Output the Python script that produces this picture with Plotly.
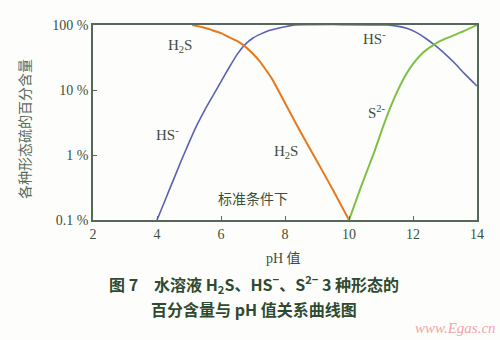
import math
import plotly.graph_objects as go

# pH vs. percentage of each sulfur species
ph_h2s = [5.1, 5.4, 5.7, 6.0, 6.25, 6.5, 6.7, 6.95, 7.2, 7.4, 7.6, 8.0, 8.5, 9.0, 9.5, 10.0]
pct_h2s = [100, 93, 84, 75, 65, 57, 49, 38, 28, 20.5, 14.7, 6.3, 2.2, 0.8, 0.29, 0.1]

ph_hs = [4.0, 4.25, 4.5, 4.75, 5.0, 5.25, 5.5, 5.75, 6.0, 6.25, 6.5, 6.75, 7.0, 7.25, 7.5,
         7.75, 8.0, 8.3, 11.2, 11.5, 11.8, 12.1, 12.4, 12.7, 13.0, 13.3, 13.6, 14.0]
pct_hs = [0.1, 0.2, 0.4, 0.8, 1.55, 2.9, 5.0, 8.2, 13.5, 22, 35, 50, 63, 73, 82,
          88.5, 94, 100, 100, 96, 89, 77, 62, 48, 36, 26, 18, 11.5]

ph_s = [10.0, 10.4, 10.8, 11.05, 11.3, 11.55, 11.8, 12.05, 12.3, 12.55, 12.8, 13.2, 13.6, 14.0]
pct_s = [0.1, 0.35, 1.15, 2.6, 5.5, 10.5, 18, 27, 37, 46, 55, 67, 81, 100]

x_ticks = [2, 4, 6, 8, 10, 12, 14]
y_ticks = [0.1, 1, 10, 100]
y_tick_text = ["0.1 %", "1 %", "10 %", "100 %"]

AXIS = "#55685a"
TEXT = "#3c4f3e"
SERIF = "Liberation Serif, Times New Roman, serif"
CJK = "Noto Sans CJK SC, sans-serif"

fig = go.Figure()
fig.add_trace(go.Scatter(x=ph_hs, y=pct_hs, mode="lines",
                         line=dict(color="#5a61b3", width=1.6, shape="spline", smoothing=0.5)))
fig.add_trace(go.Scatter(x=ph_h2s, y=pct_h2s, mode="lines",
                         line=dict(color="#e8781c", width=2, shape="spline", smoothing=0.5)))
fig.add_trace(go.Scatter(x=ph_s, y=pct_s, mode="lines",
                         line=dict(color="#7cc043", width=2, shape="spline", smoothing=0.5)))

labels = [
    (4.72, 48, "H<sub>2</sub>S"),
    (4.34, 2.1, "HS<sup>-</sup>"),
    (8.03, 1.1, "H<sub>2</sub>S"),
    (10.81, 64, "HS<sup>-</sup>"),
    (10.88, 4.6, "S<sup>2-</sup>"),
]
annotations = [
    dict(x=x, y=math.log10(y), text=t, showarrow=False,
         font=dict(family=SERIF, size=15, color=TEXT))
    for x, y, t in labels
]
annotations.append(dict(x=7.0, y=math.log10(0.22), text="标准条件下",
                        showarrow=False, font=dict(family=CJK, size=14, color=TEXT)))


def paper_note(x, y, text, font, **kw):
    d = dict(xref="paper", yref="paper", x=x, y=y, text=text, showarrow=False,
             xanchor="center", yanchor="middle", font=font)
    d.update(kw)
    return d


annotations += [
    paper_note(-0.178, 0.465, "各种形态硫的百分含量",
               dict(family=CJK, size=14, color="#5a6a5a"), textangle=-90),
    paper_note(0.495, -0.195, "pH 值",
               dict(family=SERIF + ", " + CJK, size=14, color=TEXT)),
    paper_note(0.42, -0.328,
               "<b>图 7　水溶液 H<sub>2</sub>S、HS<sup>−</sup>、S<sup>2−</sup> 3 种形态的</b>",
               dict(family=CJK, size=16, color="#2e4a30")),
    paper_note(0.42, -0.456, "<b>百分含量与 pH 值关系曲线图</b>",
               dict(family=CJK, size=16, color="#2e4a30")),
    paper_note(1.055, -0.554, "<i>www.Egas.cn</i>",
               dict(family=SERIF, size=15, color="#f2a4aa"), xanchor="right"),
]

fig.update_layout(
    width=500, height=340,
    margin=dict(l=93, r=23, t=25, b=120),
    paper_bgcolor="#fdfefb", plot_bgcolor="#fdfefb",
    showlegend=False,
    annotations=annotations,
)
fig.update_xaxes(range=[2, 14], tickvals=x_ticks, ticks="inside", ticklen=4,
                 tickcolor=AXIS, showline=True, linecolor=AXIS, linewidth=1.5,
                 mirror=True, showgrid=False, zeroline=False,
                 tickfont=dict(family=SERIF, size=14, color=TEXT))
fig.update_yaxes(type="log", range=[-1, 2], tickvals=y_ticks, ticktext=y_tick_text,
                 ticks="inside", ticklen=4, tickcolor=AXIS, showline=True,
                 linecolor=AXIS, linewidth=1.5, mirror=True, showgrid=False,
                 zeroline=False, tickfont=dict(family=SERIF, size=14, color=TEXT))

fig.write_html("out.html")
